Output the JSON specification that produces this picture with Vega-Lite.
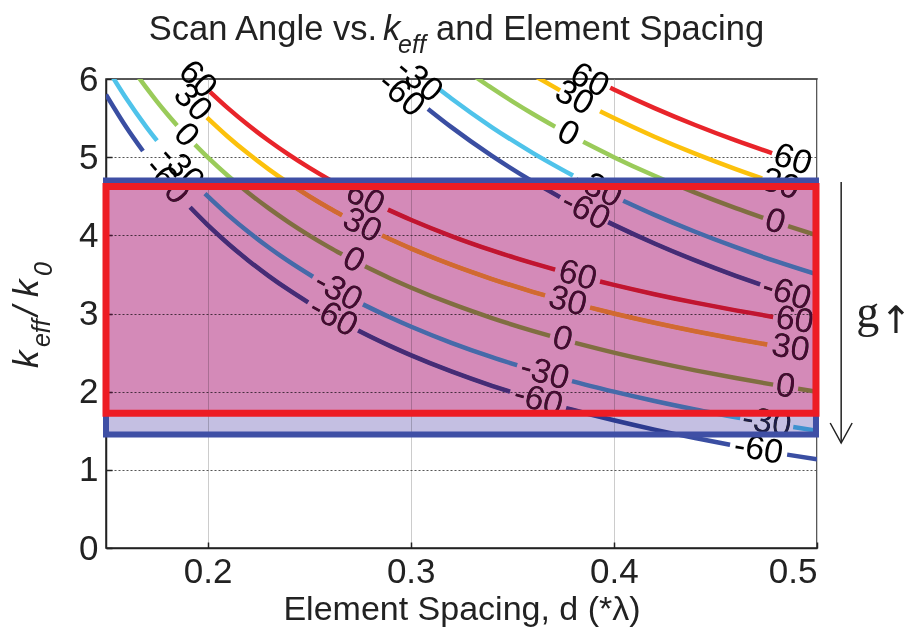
{
  "$schema": "https://vega.github.io/schema/vega-lite/v6.json",
  "width": 711,
  "height": 469,
  "autosize": {"type": "none"},
  "padding": {"left": 106, "top": 79, "right": 97, "bottom": 91},
  "background": "white",
  "config": {
    "view": {"stroke": "#222", "strokeWidth": 1.5},
    "axis": {
      "labelFont": "Liberation Sans", "labelFontSize": 35, "labelColor": "#222",
      "titleFont": "Liberation Sans", "titleFontSize": 34, "titleFontWeight": "normal", "titleColor": "#222",
      "domainColor": "#222", "domainWidth": 1.5, "tickColor": "#222", "tickSize": -6, "tickWidth": 1.5,
      "grid": true, "gridWidth": 1
    }
  },
  "datasets": {
    "curves": [
      {"m":1,"th":"-60","s":"a","d":0.15,"k":5.8007},{"m":1,"th":"-60","s":"a","d":0.16,"k":5.384},{"m":1,"th":"-60","s":"a","d":0.1682,"k":5.0793},
      {"m":1,"th":"-60","s":"b","d":0.1914,"k":4.3587},{"m":1,"th":"-60","s":"b","d":0.2,"k":4.134},{"m":1,"th":"-60","s":"b","d":0.21,"k":3.8959},{"m":1,"th":"-60","s":"b","d":0.22,"k":3.6795},{"m":1,"th":"-60","s":"b","d":0.23,"k":3.4818},{"m":1,"th":"-60","s":"b","d":0.24,"k":3.3007},{"m":1,"th":"-60","s":"b","d":0.2495,"k":3.142},
      {"m":1,"th":"-60","s":"c","d":0.2741,"k":2.7823},{"m":1,"th":"-60","s":"c","d":0.28,"k":2.7054},{"m":1,"th":"-60","s":"c","d":0.29,"k":2.5823},{"m":1,"th":"-60","s":"c","d":0.3,"k":2.4673},{"m":1,"th":"-60","s":"c","d":0.32,"k":2.259},{"m":1,"th":"-60","s":"c","d":0.34,"k":2.0752},{"m":1,"th":"-60","s":"c","d":0.3489,"k":2.0001},
      {"m":1,"th":"-60","s":"d","d":0.3765,"k":1.79},{"m":1,"th":"-60","s":"d","d":0.38,"k":1.7656},{"m":1,"th":"-60","s":"d","d":0.4,"k":1.634},{"m":1,"th":"-60","s":"d","d":0.42,"k":1.515},{"m":1,"th":"-60","s":"d","d":0.44,"k":1.4067},{"m":1,"th":"-60","s":"d","d":0.4572,"k":1.3212},
      {"m":1,"th":"-60","s":"e","d":0.4853,"k":1.1946},{"m":1,"th":"-60","s":"e","d":0.5,"k":1.134},
      {"m":1,"th":"-30","s":"a","d":0.152,"k":6.0789},{"m":1,"th":"-30","s":"a","d":0.16,"k":5.75},{"m":1,"th":"-30","s":"a","d":0.17,"k":5.3824},{"m":1,"th":"-30","s":"a","d":0.1751,"k":5.211},
      {"m":1,"th":"-30","s":"b","d":0.1987,"k":4.5327},{"m":1,"th":"-30","s":"b","d":0.21,"k":4.2619},{"m":1,"th":"-30","s":"b","d":0.22,"k":4.0455},{"m":1,"th":"-30","s":"b","d":0.23,"k":3.8478},{"m":1,"th":"-30","s":"b","d":0.24,"k":3.6667},{"m":1,"th":"-30","s":"b","d":0.2519,"k":3.4698},
      {"m":1,"th":"-30","s":"c","d":0.2765,"k":3.1166},{"m":1,"th":"-30","s":"c","d":0.29,"k":2.9483},{"m":1,"th":"-30","s":"c","d":0.3,"k":2.8333},{"m":1,"th":"-30","s":"c","d":0.32,"k":2.625},{"m":1,"th":"-30","s":"c","d":0.34,"k":2.4412},{"m":1,"th":"-30","s":"c","d":0.3524,"k":2.3377},
      {"m":1,"th":"-30","s":"d","d":0.3794,"k":2.1357},{"m":1,"th":"-30","s":"d","d":0.4,"k":2.0},{"m":1,"th":"-30","s":"d","d":0.42,"k":1.881},{"m":1,"th":"-30","s":"d","d":0.44,"k":1.7727},{"m":1,"th":"-30","s":"d","d":0.4622,"k":1.6636},
      {"m":1,"th":"-30","s":"e","d":0.4883,"k":1.5479},{"m":1,"th":"-30","s":"e","d":0.5,"k":1.5},
      {"m":1,"th":"0","s":"a","d":0.165,"k":6.0606},{"m":1,"th":"0","s":"a","d":0.17,"k":5.8824},{"m":1,"th":"0","s":"a","d":0.175,"k":5.7143},{"m":1,"th":"0","s":"a","d":0.18,"k":5.5556},{"m":1,"th":"0","s":"a","d":0.185,"k":5.4054},
      {"m":1,"th":"0","s":"b","d":0.1938,"k":5.16},{"m":1,"th":"0","s":"b","d":0.2,"k":5.0},{"m":1,"th":"0","s":"b","d":0.21,"k":4.7619},{"m":1,"th":"0","s":"b","d":0.22,"k":4.5455},{"m":1,"th":"0","s":"b","d":0.23,"k":4.3478},{"m":1,"th":"0","s":"b","d":0.24,"k":4.1667},{"m":1,"th":"0","s":"b","d":0.25,"k":4.0},{"m":1,"th":"0","s":"b","d":0.26,"k":3.8462},{"m":1,"th":"0","s":"b","d":0.2662,"k":3.7566},
      {"m":1,"th":"0","s":"c","d":0.2775,"k":3.6036},{"m":1,"th":"0","s":"c","d":0.29,"k":3.4483},{"m":1,"th":"0","s":"c","d":0.3,"k":3.3333},{"m":1,"th":"0","s":"c","d":0.32,"k":3.125},{"m":1,"th":"0","s":"c","d":0.34,"k":2.9412},{"m":1,"th":"0","s":"c","d":0.36,"k":2.7778},{"m":1,"th":"0","s":"c","d":0.3686,"k":2.713},
      {"m":1,"th":"0","s":"d","d":0.3809,"k":2.6254},{"m":1,"th":"0","s":"d","d":0.4,"k":2.5},{"m":1,"th":"0","s":"d","d":0.42,"k":2.381},{"m":1,"th":"0","s":"d","d":0.44,"k":2.2727},{"m":1,"th":"0","s":"d","d":0.46,"k":2.1739},{"m":1,"th":"0","s":"d","d":0.4784,"k":2.0903},
      {"m":1,"th":"0","s":"e","d":0.4907,"k":2.0379},{"m":1,"th":"0","s":"e","d":0.5,"k":2.0},
      {"m":1,"th":"30","s":"a","d":0.1997,"k":5.5075},{"m":1,"th":"30","s":"a","d":0.21,"k":5.2619},{"m":1,"th":"30","s":"a","d":0.22,"k":5.0455},{"m":1,"th":"30","s":"a","d":0.23,"k":4.8478},{"m":1,"th":"30","s":"a","d":0.24,"k":4.6667},{"m":1,"th":"30","s":"a","d":0.25,"k":4.5},{"m":1,"th":"30","s":"a","d":0.26,"k":4.3462},{"m":1,"th":"30","s":"a","d":0.2662,"k":4.2566},
      {"m":1,"th":"30","s":"b","d":0.2859,"k":3.9977},{"m":1,"th":"30","s":"b","d":0.3,"k":3.8333},{"m":1,"th":"30","s":"b","d":0.32,"k":3.625},{"m":1,"th":"30","s":"b","d":0.34,"k":3.4412},{"m":1,"th":"30","s":"b","d":0.36,"k":3.2778},{"m":1,"th":"30","s":"b","d":0.3661,"k":3.2315},
      {"m":1,"th":"30","s":"c","d":0.3883,"k":3.0753},{"m":1,"th":"30","s":"c","d":0.4,"k":3.0},{"m":1,"th":"30","s":"c","d":0.42,"k":2.881},{"m":1,"th":"30","s":"c","d":0.44,"k":2.7727},{"m":1,"th":"30","s":"c","d":0.46,"k":2.6739},{"m":1,"th":"30","s":"c","d":0.4755,"k":2.603},
      {"m":1,"th":"60","s":"a","d":0.2012,"k":5.8362},{"m":1,"th":"60","s":"a","d":0.21,"k":5.6279},{"m":1,"th":"60","s":"a","d":0.22,"k":5.4115},{"m":1,"th":"60","s":"a","d":0.23,"k":5.2138},{"m":1,"th":"60","s":"a","d":0.24,"k":5.0327},{"m":1,"th":"60","s":"a","d":0.25,"k":4.866},{"m":1,"th":"60","s":"a","d":0.26,"k":4.7122},{"m":1,"th":"60","s":"a","d":0.2677,"k":4.6015},
      {"m":1,"th":"60","s":"b","d":0.2888,"k":4.3286},{"m":1,"th":"60","s":"b","d":0.3,"k":4.1993},{"m":1,"th":"60","s":"b","d":0.32,"k":3.991},{"m":1,"th":"60","s":"b","d":0.34,"k":3.8072},{"m":1,"th":"60","s":"b","d":0.36,"k":3.6438},{"m":1,"th":"60","s":"b","d":0.3711,"k":3.5607},
      {"m":1,"th":"60","s":"c","d":0.3932,"k":3.4092},{"m":1,"th":"60","s":"c","d":0.4,"k":3.366},{"m":1,"th":"60","s":"c","d":0.42,"k":3.247},{"m":1,"th":"60","s":"c","d":0.44,"k":3.1387},{"m":1,"th":"60","s":"c","d":0.46,"k":3.0399},{"m":1,"th":"60","s":"c","d":0.4784,"k":2.9563},
      {"m":2,"th":"-60","s":"a","d":0.3085,"k":5.617},{"m":2,"th":"-60","s":"a","d":0.32,"k":5.384},{"m":2,"th":"-60","s":"a","d":0.34,"k":5.0164},{"m":2,"th":"-60","s":"a","d":0.36,"k":4.6896},{"m":2,"th":"-60","s":"a","d":0.3735,"k":4.4888},
      {"m":2,"th":"-60","s":"b","d":0.3972,"k":4.1692},{"m":2,"th":"-60","s":"b","d":0.4,"k":4.134},{"m":2,"th":"-60","s":"b","d":0.42,"k":3.8959},{"m":2,"th":"-60","s":"b","d":0.44,"k":3.6795},{"m":2,"th":"-60","s":"b","d":0.46,"k":3.4818},{"m":2,"th":"-60","s":"b","d":0.472,"k":3.3713},
      {"m":2,"th":"-30","s":"a","d":0.3144,"k":5.8613},{"m":2,"th":"-30","s":"a","d":0.32,"k":5.75},{"m":2,"th":"-30","s":"a","d":0.34,"k":5.3824},{"m":2,"th":"-30","s":"a","d":0.36,"k":5.0556},{"m":2,"th":"-30","s":"a","d":0.3799,"k":4.7645},
      {"m":2,"th":"-30","s":"b","d":0.4046,"k":4.4432},{"m":2,"th":"-30","s":"b","d":0.42,"k":4.2619},{"m":2,"th":"-30","s":"b","d":0.44,"k":4.0455},{"m":2,"th":"-30","s":"b","d":0.46,"k":3.8478},{"m":2,"th":"-30","s":"b","d":0.48,"k":3.6667},{"m":2,"th":"-30","s":"b","d":0.5,"k":3.5},
      {"m":2,"th":"0","s":"a","d":0.332,"k":6.0241},{"m":2,"th":"0","s":"a","d":0.34,"k":5.8824},{"m":2,"th":"0","s":"a","d":0.35,"k":5.7143},{"m":2,"th":"0","s":"a","d":0.36,"k":5.5556},{"m":2,"th":"0","s":"a","d":0.3711,"k":5.3894},
      {"m":2,"th":"0","s":"b","d":0.3849,"k":5.1962},{"m":2,"th":"0","s":"b","d":0.4,"k":5.0},{"m":2,"th":"0","s":"b","d":0.42,"k":4.7619},{"m":2,"th":"0","s":"b","d":0.44,"k":4.5455},{"m":2,"th":"0","s":"b","d":0.46,"k":4.3478},{"m":2,"th":"0","s":"b","d":0.4735,"k":4.2239},
      {"m":2,"th":"0","s":"c","d":0.4858,"k":4.1169},{"m":2,"th":"0","s":"c","d":0.5,"k":4.0},
      {"m":2,"th":"30","s":"a","d":0.362,"k":6.0249},{"m":2,"th":"30","s":"a","d":0.3735,"k":5.8548},
      {"m":2,"th":"30","s":"b","d":0.3932,"k":5.5865},{"m":2,"th":"30","s":"b","d":0.4,"k":5.5},{"m":2,"th":"30","s":"b","d":0.42,"k":5.2619},{"m":2,"th":"30","s":"b","d":0.44,"k":5.0455},{"m":2,"th":"30","s":"b","d":0.46,"k":4.8478},{"m":2,"th":"30","s":"b","d":0.473,"k":4.7283},
      {"m":2,"th":"60","s":"a","d":0.3982,"k":5.8886},{"m":2,"th":"60","s":"a","d":0.4,"k":5.866},{"m":2,"th":"60","s":"a","d":0.42,"k":5.6279},{"m":2,"th":"60","s":"a","d":0.44,"k":5.4115},{"m":2,"th":"60","s":"a","d":0.46,"k":5.2138},{"m":2,"th":"60","s":"a","d":0.4779,"k":5.051}
    ],
    "labels": [
      {"t":"-60","d":0.1798,"k":4.696,"ang":50},{"t":"-30","d":0.1869,"k":4.85,"ang":48},{"t":"0","d":0.1894,"k":5.28,"ang":47},{"t":"30","d":0.1925,"k":5.695,"ang":46},{"t":"60","d":0.195,"k":5.99,"ang":45},
      {"t":"60","d":0.2775,"k":4.47,"ang":27},{"t":"30","d":0.276,"k":4.123,"ang":27},{"t":"0","d":0.2718,"k":3.679,"ang":28},{"t":"-30","d":0.2642,"k":3.285,"ang":29},{"t":"-60","d":0.2618,"k":2.954,"ang":29},
      {"t":"60","d":0.3821,"k":3.483,"ang":15},{"t":"30","d":0.3772,"k":3.151,"ang":15},{"t":"0","d":0.3747,"k":2.669,"ang":15},{"t":"-30","d":0.3659,"k":2.233,"ang":16},{"t":"-60","d":0.3627,"k":1.891,"ang":16},
      {"t":"60","d":0.489,"k":2.911,"ang":9},{"t":"30","d":0.487,"k":2.553,"ang":9},{"t":"0","d":0.4845,"k":2.064,"ang":9},{"t":"-30","d":0.4752,"k":1.604,"ang":10},{"t":"-60","d":0.4712,"k":1.256,"ang":10},
      {"t":"-60","d":0.2952,"k":5.8,"ang":41},{"t":"-30","d":0.304,"k":5.98,"ang":40},{"t":"60","d":0.388,"k":5.98,"ang":27},{"t":"30","d":0.3805,"k":5.756,"ang":28},{"t":"0","d":0.3775,"k":5.298,"ang":28},{"t":"-30","d":0.392,"k":4.602,"ang":27},{"t":"-60","d":0.386,"k":4.315,"ang":27},
      {"t":"60","d":0.488,"k":4.964,"ang":18},{"t":"30","d":0.482,"k":4.649,"ang":18},{"t":"0","d":0.4794,"k":4.172,"ang":18},{"t":"-60","d":0.485,"k":3.258,"ang":18}
    ],
    "zones": [
      {"z":"strip","d":0.15,"d2":0.5,"k":1.452,"k2":1.725},
      {"z":"pink","d":0.15,"d2":0.4995,"k":1.725,"k2":4.625},
      {"z":"blue","d":0.15,"d2":0.4995,"k":1.452,"k2":4.7},
      {"z":"red","d":0.15,"d2":0.4995,"k":1.725,"k2":4.625}
    ],
    "arrow": [
      {"p":"shaft","d":0.5119,"k":4.682,"k2":1.343},
      {"p":"head","d":0.5065,"k":1.599,"o":1},{"p":"head","d":0.5119,"k":1.343,"o":2},{"p":"head","d":0.5173,"k":1.599,"o":3}
    ],
    "texts": [
      {"p":"title","t":"Scan Angle vs.","d":0.2834,"k":6.499},
      {"p":"titleK","t":"k","d":0.2864,"k":6.499},
      {"p":"titleSub","t":"eff","d":0.2938,"k":6.332},
      {"p":"titleRest","t":"and Element Spacing","d":0.3125,"k":6.499},
      {"p":"yk","t":"k","d":0.1165,"k":2.303},
      {"p":"ysub","t":"eff","d":0.1224,"k":2.571},
      {"p":"yslash","t":"/","d":0.1165,"k":2.968},
      {"p":"yk","t":"k","d":0.1165,"k":3.21},
      {"p":"ysub","t":"0","d":0.1234,"k":3.48},
      {"p":"g","t":"g","d":0.5193,"k":2.827},
      {"p":"up","t":"↑","d":0.5311,"k":2.75}
    ]
  },
  "encoding": {
    "x": {"field": "d", "type": "quantitative",
      "scale": {"domain": [0.15, 0.5], "nice": false, "zero": false},
      "axis": {"values": [0.2, 0.3, 0.4, 0.5], "format": ".1f", "title": "Element Spacing, d (*λ)", "gridColor": "#cccccc", "labelPadding": 12, "titlePadding": 3}},
    "y": {"field": "k", "type": "quantitative",
      "scale": {"domain": [0, 6], "nice": false, "zero": false},
      "axis": {"values": [0, 1, 2, 3, 4, 5, 6], "format": "d", "title": null, "gridColor": "#555", "gridDash": [2, 2], "labelPadding": 14}}
  },
  "layer": [
    {
      "data": {"name": "curves"},
      "mark": {"type": "line", "strokeWidth": 4.5, "clip": true, "interpolate": "monotone"},
      "encoding": {
        "color": {"field": "th", "type": "nominal", "legend": null,
          "scale": {"domain": ["-60", "-30", "0", "30", "60"], "range": ["#3a4ea2", "#4fc3ea", "#9acb5a", "#fcc10c", "#e8242a"]}},
        "detail": [{"field": "m"}, {"field": "s"}]
      }
    },
    {
      "data": {"name": "labels"},
      "mark": {"type": "text", "font": "Liberation Sans", "fontSize": 34, "color": "#000", "align": "center", "baseline": "middle"},
      "encoding": {"text": {"field": "t"}, "angle": {"field": "ang", "type": "quantitative", "scale": null}}
    },
    {
      "data": {"name": "zones"},
      "transform": [{"filter": "datum.z === 'strip'"}],
      "mark": {"type": "rect", "fill": "#c4bfe2", "fillOpacity": 1, "blend": "multiply"},
      "encoding": {"x2": {"field": "d2"}, "y2": {"field": "k2"}}
    },
    {
      "data": {"name": "zones"},
      "transform": [{"filter": "datum.z === 'strip'"}],
      "mark": {"type": "rect", "fill": "#1e1e46", "fillOpacity": 1, "blend": "lighten"},
      "encoding": {"x2": {"field": "d2"}, "y2": {"field": "k2"}}
    },
    {
      "data": {"name": "zones"},
      "transform": [{"filter": "datum.z === 'pink'"}],
      "mark": {"type": "rect", "fill": "#d48ab8", "fillOpacity": 1, "blend": "multiply"},
      "encoding": {"x2": {"field": "d2"}, "y2": {"field": "k2"}}
    },
    {
      "data": {"name": "zones"},
      "transform": [{"filter": "datum.z === 'pink'"}],
      "mark": {"type": "rect", "fill": "#460a32", "fillOpacity": 1, "blend": "lighten"},
      "encoding": {"x2": {"field": "d2"}, "y2": {"field": "k2"}}
    },
    {
      "data": {"name": "zones"},
      "transform": [{"filter": "datum.z === 'blue'"}],
      "mark": {"type": "rect", "fill": null, "fillOpacity": 0, "stroke": "#3f4fa5", "strokeWidth": 6},
      "encoding": {"x2": {"field": "d2"}, "y2": {"field": "k2"}}
    },
    {
      "data": {"name": "zones"},
      "transform": [{"filter": "datum.z === 'red'"}],
      "mark": {"type": "rect", "fill": null, "fillOpacity": 0, "stroke": "#ed1c24", "strokeWidth": 7},
      "encoding": {"x2": {"field": "d2"}, "y2": {"field": "k2"}}
    },
    {
      "data": {"name": "arrow"},
      "transform": [{"filter": "datum.p === 'shaft'"}],
      "mark": {"type": "rule", "color": "#222", "strokeWidth": 1.5},
      "encoding": {"y2": {"field": "k2"}}
    },
    {
      "data": {"name": "arrow"},
      "transform": [{"filter": "datum.p === 'head'"}],
      "mark": {"type": "line", "color": "#222", "strokeWidth": 1.5},
      "encoding": {"order": {"field": "o"}}
    },
    {
      "data": {"name": "texts"},
      "transform": [{"filter": "datum.p === 'title'"}],
      "mark": {"type": "text", "font": "Liberation Sans", "fontSize": 34.5, "color": "#222", "align": "right", "baseline": "alphabetic"},
      "encoding": {"text": {"field": "t"}}
    },
    {
      "data": {"name": "texts"},
      "transform": [{"filter": "datum.p === 'titleK'"}],
      "mark": {"type": "text", "font": "Liberation Sans", "fontSize": 34.5, "fontStyle": "italic", "color": "#222", "align": "left", "baseline": "alphabetic"},
      "encoding": {"text": {"field": "t"}}
    },
    {
      "data": {"name": "texts"},
      "transform": [{"filter": "datum.p === 'titleSub'"}],
      "mark": {"type": "text", "font": "Liberation Sans", "fontSize": 25, "fontStyle": "italic", "color": "#222", "align": "left", "baseline": "alphabetic"},
      "encoding": {"text": {"field": "t"}}
    },
    {
      "data": {"name": "texts"},
      "transform": [{"filter": "datum.p === 'titleRest'"}],
      "mark": {"type": "text", "font": "Liberation Sans", "fontSize": 34.5, "color": "#222", "align": "left", "baseline": "alphabetic"},
      "encoding": {"text": {"field": "t"}}
    },
    {
      "data": {"name": "texts"},
      "transform": [{"filter": "datum.p === 'yk'"}],
      "mark": {"type": "text", "font": "Liberation Sans", "fontSize": 35, "fontStyle": "italic", "color": "#222", "align": "left", "baseline": "alphabetic", "angle": 270},
      "encoding": {"text": {"field": "t"}}
    },
    {
      "data": {"name": "texts"},
      "transform": [{"filter": "datum.p === 'ysub'"}],
      "mark": {"type": "text", "font": "Liberation Sans", "fontSize": 25, "fontStyle": "italic", "color": "#222", "align": "left", "baseline": "alphabetic", "angle": 270},
      "encoding": {"text": {"field": "t"}}
    },
    {
      "data": {"name": "texts"},
      "transform": [{"filter": "datum.p === 'yslash'"}],
      "mark": {"type": "text", "font": "Liberation Sans", "fontSize": 35, "fontStyle": "italic", "color": "#222", "align": "left", "baseline": "alphabetic", "angle": 270},
      "encoding": {"text": {"field": "t"}}
    },
    {
      "data": {"name": "texts"},
      "transform": [{"filter": "datum.p === 'g'"}],
      "mark": {"type": "text", "font": "Liberation Serif", "fontSize": 46, "color": "#222", "align": "left", "baseline": "alphabetic"},
      "encoding": {"text": {"field": "t"}}
    },
    {
      "data": {"name": "texts"},
      "transform": [{"filter": "datum.p === 'up'"}],
      "mark": {"type": "text", "font": "DejaVu Sans", "fontSize": 38, "color": "#222", "align": "left", "baseline": "alphabetic"},
      "encoding": {"text": {"field": "t"}}
    }
  ]
}
